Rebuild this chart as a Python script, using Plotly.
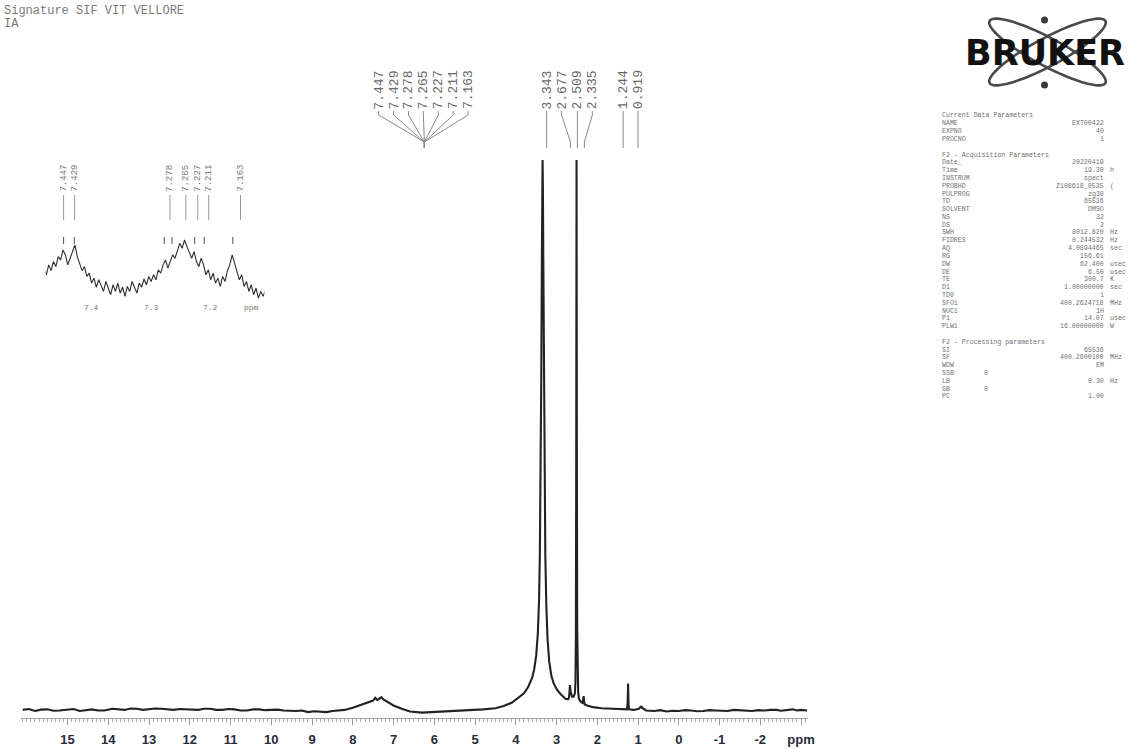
import math
import plotly.graph_objects as go

W, H = 1137, 749

# ---------------- data ----------------
main_ppm = [16.1, 15.95, 15.8, 15.65, 15.5, 15.35, 15.2, 15.0, 14.85, 14.7, 14.55, 14.4, 14.25,
            14.1, 13.9, 13.75, 13.6, 13.45, 13.3, 13.15, 13.0, 12.85, 12.7, 12.55, 12.4, 12.25,
            12.1, 11.95, 11.8, 11.65, 11.5, 11.35, 11.2, 11.05, 10.9, 10.75, 10.6, 10.45, 10.3,
            10.15, 10.0, 9.85, 9.7, 9.55, 9.4, 9.25, 9.1, 8.95, 8.8, 8.65, 8.5, 8.35, 8.2, 8.0,
            7.8, 7.6, 7.5, 7.45, 7.4, 7.35, 7.3, 7.25, 7.15, 7.0, 6.8, 6.6, 6.3, 6.0, 5.7, 5.4,
            5.1, 4.8, 4.5, 4.3, 4.1, 3.95, 3.8, 3.7, 3.6, 3.55, 3.5, 3.46, 3.43, 3.41, 3.39,
            3.375, 3.36, 3.35, 3.343, 3.335, 3.325, 3.31, 3.295, 3.275, 3.25, 3.22, 3.18, 3.13,
            3.07, 3.0, 2.92, 2.85, 2.78, 2.72, 2.695, 2.683, 2.677, 2.67, 2.655, 2.62, 2.58,
            2.55, 2.535, 2.525, 2.517, 2.512, 2.509, 2.506, 2.501, 2.493, 2.483, 2.47, 2.45,
            2.40, 2.36, 2.345, 2.335, 2.327, 2.31, 2.25, 2.1, 1.9, 1.7, 1.5, 1.35, 1.27, 1.255,
            1.244, 1.233, 1.22, 1.1, 0.98, 0.93, 0.919, 0.905, 0.8, 0.6, 0.45, 0.3, 0.15, 0.0,
            -0.15, -0.3, -0.45, -0.6, -0.75, -0.9, -1.05, -1.2, -1.35, -1.5, -1.65, -1.8, -1.95,
            -2.1, -2.25, -2.4, -2.5, -2.6, -2.7, -2.8, -2.9, -3.0, -3.15]
main_int = [0.2, 0.35, 0.0, 0.25, 0.3, 0.05, 0.1, 0.2, 0.35, 0.0, 0.2, 0.3, 0.1,
            0.1, 0.4, 0.25, 0.2, 0.45, 0.4, 0.2, 0.3, 0.45, 0.4, 0.25, 0.2, 0.35,
            0.3, 0.15, 0.2, 0.4, 0.4, 0.2, 0.2, 0.35, 0.3, 0.1, 0.1, 0.3, 0.3,
            0.15, 0.2, 0.25, 0.1, 0.05, 0.0, 0.1, -0.2, -0.05, -0.1, -0.2, 0.0, 0.1, 0.2, 0.6,
            1.1, 1.6, 1.9, 2.4, 2.0, 2.2, 2.5, 2.1, 1.6, 1.0, 0.4, -0.1, -0.3, -0.2, -0.1, 0.0,
            0.2, 0.3, 0.5, 0.9, 1.5, 2.4, 3.2, 4.3, 6.0, 7.5, 10, 14, 20, 28, 42,
            60, 82, 95, 100, 95, 82, 60, 42, 28, 19, 13, 9, 6.5,
            5, 4.0, 3.2, 2.6, 2.2, 2.1, 2.4, 3.4, 4.6, 4.7, 3.6, 2.6, 2.6,
            3.2, 5.5, 14, 45, 85, 100, 85, 45, 15, 6, 3.5, 2.2,
            1.6, 1.5, 2.0, 2.7, 1.8, 1.2, 1.0, 0.7, 0.5, 0.4, 0.3, 0.3, 0.3, 1.5,
            5.0, 1.2, 0.3, 0.2, 0.4, 0.8, 0.9, 0.6, 0.1, 0.0, 0.15, -0.1, 0.05, 0.0,
            0.15, 0.1, -0.05, 0.0, 0.15, 0.1, 0.0, 0.0, 0.2, 0.1, 0.05, 0.0, 0.15,
            0.1, 0.2, 0.2, 0.05, 0.1, 0.25, 0.3, 0.1, 0.2, 0.1]

inset_ppm = [round(7.480 - 0.004 * i, 3) for i in range(96)]
inset_int = [58, 50, 62, 55, 66, 60, 72, 68, 80, 74, 62, 70, 78, 86, 72, 64, 55, 60, 48, 52,
             40, 46, 35, 44, 38, 30, 42, 34, 26, 38, 30, 40, 28, 35, 24, 36, 30, 42, 34, 28,
             40, 35, 45, 38, 48, 42, 50, 44, 56, 52, 62, 68, 58, 66, 74, 70, 80, 88, 82, 92,
             84, 76, 70, 78, 66, 60, 70, 62, 50, 56, 44, 52, 40, 46, 36, 48, 42, 55, 62, 74,
             64, 52, 44, 50, 36, 42, 30, 38, 26, 34, 22, 30, 24, 32, 28, 30]

tick_vals = [15, 14, 13, 12, 11, 10, 9, 8, 7, 6, 5, 4, 3, 2, 1, 0, -1, -2, -3]
tick_text = ["15", "14", "13", "12", "11", "10", "9", "8", "7", "6", "5", "4", "3", "2", "1",
             "0", "-1", "-2", "ppm"]

inset_tick_vals = [7.4, 7.3, 7.2, 7.132]
inset_tick_text = ["7.4", "7.3", "7.2", "ppm"]

arom_labels = ["7.447", "7.429", "7.278", "7.265", "7.227", "7.211", "7.163"]
arom_ppm = [7.447, 7.429, 7.278, 7.265, 7.227, 7.211, 7.163]
aliph_labels = ["3.343", "2.677", "2.509", "2.335", "1.244", "0.919"]

title_lines = ["Signature SIF VIT VELLORE", "IA"]

param_names = ["Current Data Parameters", "NAME", "EXPNO", "PROCNO", "",
               "F2 - Acquisition Parameters", "Date_", "Time", "INSTRUM", "PROBHD", "PULPROG",
               "TD", "SOLVENT", "NS", "DS", "SWH", "FIDRES", "AQ", "RG", "DW", "DE", "TE", "D1",
               "TD0", "SFO1", "NUC1", "P1", "PLW1", "",
               "F2 - Processing parameters", "SI", "SF", "WDW", "SSB", "LB", "GB", "PC"]
param_values = ["", "EXT00422", "40", "1", "",
                "", "20220419", "19.30", "spect", "Z108618_0535", "zg30",
                "65536", "DMSO", "32", "2", "8012.820", "0.244532", "4.0894465", "156.61",
                "62.400", "6.50", "300.7", "1.00000000",
                "1", "400.2624718", "1H", "14.07", "16.00000000", "",
                "", "65536", "400.2600100", "EM", "0", "0.30", "0", "1.00"]
param_units = ["", "", "", "", "",
               "", "", "h", "", "(", "",
               "", "", "", "", "Hz", "Hz", "sec", "",
               "usec", "usec", "K", "sec",
               "", "MHz", "", "usec", "W", "",
               "", "", "MHz", "", "", "Hz", "", ""]
left_value_params = ["SSB", "GB"]


# ---------------- helpers ----------------
def px(x):
    return x / W


def py(y):
    return 1 - y / H


GRAY = "#6a6a6a"
LINEGRAY = "#8a8a8a"
MONO = "Liberation Mono"
fig = go.Figure()

fig.add_trace(go.Scatter(x=main_ppm, y=main_int, mode="lines",
                         line=dict(color="#222222", width=2.1),
                         xaxis="x", yaxis="y", hoverinfo="skip"))
fig.add_trace(go.Scatter(x=inset_ppm, y=inset_int, mode="lines",
                         line=dict(color="#2e2e2e", width=1.1),
                         xaxis="x2", yaxis="y2", hoverinfo="skip"))

annotations = []
shapes = []

# title
for i, t in enumerate(title_lines):
    annotations.append(dict(x=px(2), y=py(11 + 13 * i), xref="paper", yref="paper",
                            text=t, showarrow=False, xanchor="left", yanchor="middle",
                            font=dict(family=MONO, size=12, color="#7a7a7a")))

# main peak labels - aromatic fan
fan_cx = 427
for i, lab in enumerate(arom_labels):
    lx = 381 + 15 * i
    annotations.append(dict(x=px(lx), y=py(90), xref="paper", yref="paper", text=lab,
                            textangle=-90, showarrow=False, xanchor="center", yanchor="middle",
                            font=dict(family=MONO, size=13, color=GRAY)))
    path = (f"M {px(lx):.5f},{py(111):.5f} L {px(lx):.5f},{py(115):.5f} "
            f"L {px(fan_cx):.5f},{py(142):.5f} L {px(fan_cx):.5f},{py(148):.5f}")
    shapes.append(dict(type="path", path=path, xref="paper", yref="paper",
                       line=dict(color=LINEGRAY, width=1)))

# main peak labels - aliphatic
aliph_top_x = [550, 565, 581, 596, 627, 642]
aliph_bot_x = [550, 574, 581, 588, 627, 642]
for lab, tx, bx in zip(aliph_labels, aliph_top_x, aliph_bot_x):
    annotations.append(dict(x=px(tx), y=py(90), xref="paper", yref="paper", text=lab,
                            textangle=-90, showarrow=False, xanchor="center", yanchor="middle",
                            font=dict(family=MONO, size=13, color=GRAY)))
    path = (f"M {px(tx):.5f},{py(111):.5f} L {px(tx):.5f},{py(115):.5f} "
            f"L {px(bx):.5f},{py(142):.5f} L {px(bx):.5f},{py(148):.5f}")
    shapes.append(dict(type="path", path=path, xref="paper", yref="paper",
                       line=dict(color=LINEGRAY, width=1)))

# inset peak labels
inset_label_x = [64, 75, 171, 187, 199, 210, 242]
for lab, lx, pp in zip(arom_labels, inset_label_x, arom_ppm):
    annotations.append(dict(x=px(lx), y=py(178), xref="paper", yref="paper", text=lab,
                            textangle=-90, showarrow=False, xanchor="center", yanchor="middle",
                            font=dict(family=MONO, size=9, color="#7a7a7a")))
    shapes.append(dict(type="line", x0=px(lx), x1=px(lx), y0=py(195), y1=py(220),
                       xref="paper", yref="paper", line=dict(color="#9a9a9a", width=1)))
    shapes.append(dict(type="line", x0=pp, x1=pp, y0=py(237), y1=py(244),
                       xref="x2", yref="paper", line=dict(color="#555", width=1)))

# inset tick labels
for tv, tt in zip(inset_tick_vals, inset_tick_text):
    annotations.append(dict(x=tv, y=py(307), xref="x2", yref="paper", text=tt,
                            showarrow=False, xanchor="center", yanchor="middle",
                            font=dict(family=MONO, size=8, color="#777")))

# parameter block
y0p, dyp = 116, 7.8
PFONT = dict(family=MONO, size=6.6, color="#707070")
for i, (nm, val, un) in enumerate(zip(param_names, param_values, param_units)):
    if nm == "":
        continue
    yy = py(y0p + dyp * i)
    annotations.append(dict(x=px(946), y=yy, xref="paper", yref="paper", text=nm,
                            showarrow=False, xanchor="left", yanchor="middle", font=PFONT))
    if val:
        if nm in left_value_params:
            annotations.append(dict(x=px(988), y=yy, xref="paper", yref="paper", text=val,
                                    showarrow=False, xanchor="left", yanchor="middle",
                                    font=PFONT))
        else:
            annotations.append(dict(x=px(1113), y=yy, xref="paper", yref="paper", text=val,
                                    showarrow=False, xanchor="right", yanchor="middle",
                                    font=PFONT))
    if un:
        annotations.append(dict(x=px(1115), y=yy, xref="paper", yref="paper", text=un,
                                showarrow=False, xanchor="left", yanchor="middle", font=PFONT))


# Bruker logo
def ellipse_path(cx, cy, a, b, ang, n=90):
    th = math.radians(ang)
    pts = []
    for k in range(n + 1):
        t = 2 * math.pi * k / n
        ex, ey = a * math.cos(t), b * math.sin(t)
        X = cx + ex * math.cos(th) - ey * math.sin(th)
        Y = cy + ex * math.sin(th) + ey * math.cos(th)
        pts.append(f"{px(X):.5f},{py(Y):.5f}")
    return "M " + " L ".join(pts) + " Z"


for ang in (28, -28):
    shapes.append(dict(type="path", path=ellipse_path(1054, 52, 66, 14, ang),
                       xref="paper", yref="paper", line=dict(color="#4a4a4a", width=2.6)))
for (dx, dy) in ((1051, 20), (1051, 85)):
    shapes.append(dict(type="circle", x0=px(dx - 3.5), x1=px(dx + 3.5), y0=py(dy - 3.5),
                       y1=py(dy + 3.5), xref="paper", yref="paper",
                       fillcolor="#3a3a3a", line=dict(width=0)))
annotations.append(dict(x=px(1051), y=py(53), xref="paper", yref="paper", text="<b>BRUKER</b>",
                        showarrow=False, xanchor="center", yanchor="middle",
                        font=dict(family="DejaVu Sans", size=35, color="#111")))

fig.update_layout(
    width=W, height=H, autosize=False,
    margin=dict(l=0, r=0, t=0, b=0),
    paper_bgcolor="white", plot_bgcolor="white",
    showlegend=False,
    xaxis=dict(domain=[px(21), px(813)], range=[16.146, -3.171], anchor="y",
               showgrid=False, zeroline=False, showline=True, linecolor="#a0a0a0", linewidth=1,
               ticks="outside", ticklen=6, tickcolor="#9a9a9a", tickwidth=1,
               tickmode="array", tickvals=tick_vals,
               ticktext=[f"<b>{t}</b>" for t in tick_text],
               tickfont=dict(family="Liberation Sans", size=13, color="#2a2a3a"),
               ticklabelstandoff=3,
               minor=dict(tickmode="linear", tick0=0, dtick=0.1, ticks="outside",
                          ticklen=3, tickcolor="#b0b0b0", showgrid=False)),
    yaxis=dict(domain=[py(718), py(158)], range=[-1.27, 100.35], visible=False),
    xaxis2=dict(domain=[px(46), px(266)], range=[7.477, 7.110], anchor="y2",
                showgrid=False, zeroline=False, showline=False, showticklabels=False,
                ticks=""),
    yaxis2=dict(domain=[py(303), py(237)], range=[16, 95.6], visible=False),
    annotations=annotations,
    shapes=shapes,
)

fig.write_html("out.html", config={"displayModeBar": False},
               post_script="document.body.style.margin='0px';"
                           "document.body.style.overflow='hidden';")
